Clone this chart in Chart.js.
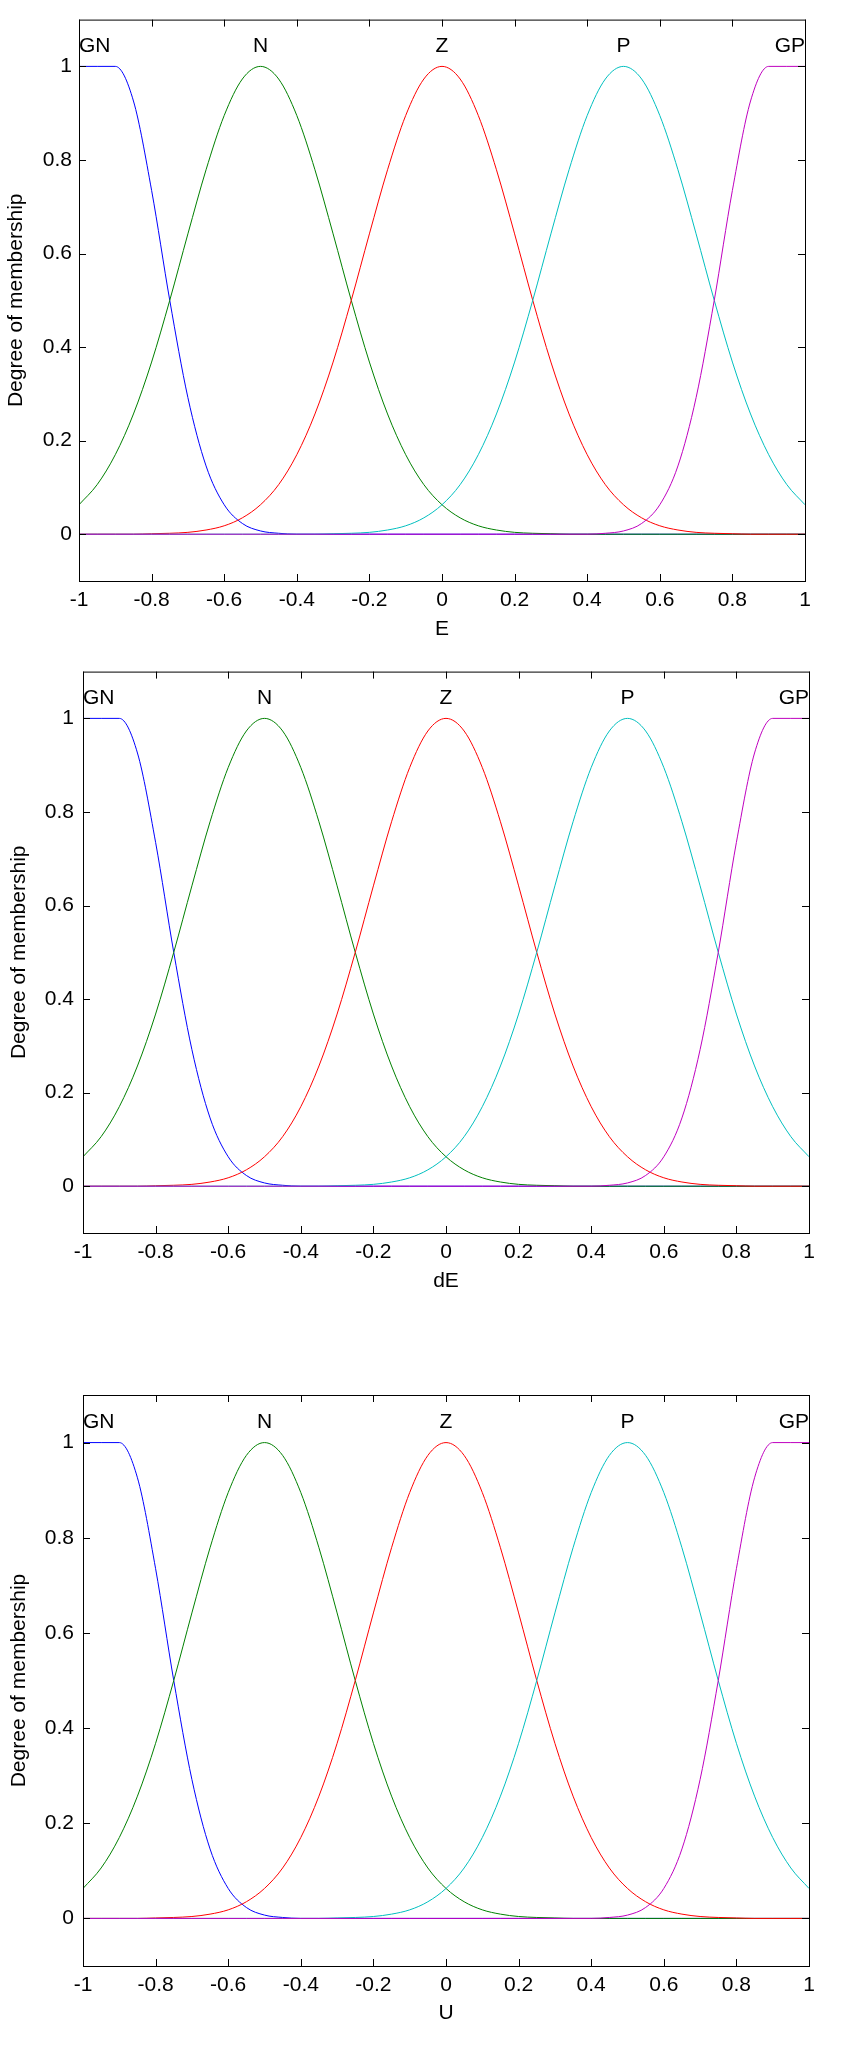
<!DOCTYPE html>
<html>
<head>
<meta charset="utf-8">
<script src="https://cdn.jsdelivr.net/npm/chart.js@4.4.1/dist/chart.umd.min.js"></script>
<style>
  body { margin: 0; background: #fff; width: 857px; height: 2051px; position: relative; overflow: hidden; }
  canvas { position: absolute; left: 0; }
</style>
</head>
<body>
<canvas id="chartE" width="857" height="650" style="top:0px"></canvas>
<canvas id="chartDE" width="857" height="660" style="top:650px"></canvas>
<canvas id="chartU" width="857" height="741" style="top:1310px"></canvas>
<script>
// membership functions at a 0.05 step of the input
var xValues = [-1, -0.95, -0.9, -0.85, -0.8, -0.75, -0.7, -0.65, -0.6, -0.55,
               -0.5, -0.45, -0.4, -0.35, -0.3, -0.25, -0.2, -0.15, -0.1, -0.05,
               0, 0.05, 0.1, 0.15, 0.2, 0.25, 0.3, 0.35, 0.4, 0.45,
               0.5, 0.55, 0.6, 0.65, 0.7, 0.75, 0.8, 0.85, 0.9, 0.95, 1];

var gnValues = [1, 1, 1, 0.926, 0.735, 0.5, 0.292, 0.146, 0.063, 0.023,
                0.007, 0.002, 0, 0, 0, 0, 0, 0, 0, 0,
                0, 0, 0, 0, 0, 0, 0, 0, 0, 0,
                0, 0, 0, 0, 0, 0, 0, 0, 0, 0, 0];
var nValues = [0.063, 0.106, 0.170, 0.257, 0.368, 0.5, 0.642, 0.779, 0.895, 0.973,
               1, 0.973, 0.895, 0.779, 0.642, 0.5, 0.368, 0.257, 0.170, 0.106,
               0.063, 0.035, 0.018, 0.009, 0.004, 0.002, 0.001, 0, 0, 0,
               0, 0, 0, 0, 0, 0, 0, 0, 0, 0, 0];
var zValues = [0, 0, 0, 0, 0.001, 0.002, 0.004, 0.009, 0.018, 0.035,
               0.063, 0.106, 0.170, 0.257, 0.368, 0.5, 0.642, 0.779, 0.895, 0.973,
               1, 0.973, 0.895, 0.779, 0.642, 0.5, 0.368, 0.257, 0.170, 0.106,
               0.063, 0.035, 0.018, 0.009, 0.004, 0.002, 0.001, 0, 0, 0, 0];
var pValues = [0, 0, 0, 0, 0, 0, 0, 0, 0, 0,
               0, 0, 0, 0, 0.001, 0.002, 0.004, 0.009, 0.018, 0.035,
               0.063, 0.106, 0.170, 0.257, 0.368, 0.5, 0.642, 0.779, 0.895, 0.973,
               1, 0.973, 0.895, 0.779, 0.642, 0.5, 0.368, 0.257, 0.170, 0.106, 0.063];
var gpValues = [0, 0, 0, 0, 0, 0, 0, 0, 0, 0,
                0, 0, 0, 0, 0, 0, 0, 0, 0, 0,
                0, 0, 0, 0, 0, 0, 0, 0, 0, 0.002,
                0.007, 0.023, 0.063, 0.146, 0.292, 0.5, 0.735, 0.926, 1, 1, 1];

var mfNames = ['GN', 'N', 'Z', 'P', 'GP'];
var mfNameX = [-1, -0.5, 0, 0.5, 1];
var mfNameAlign = ['left', 'center', 'center', 'center', 'right'];
var mfColors = ['#0000ff', '#008000', '#ff0000', '#00bfbf', '#bf00bf'];

var xTickValues = [-1, -0.8, -0.6, -0.4, -0.2, 0, 0.2, 0.4, 0.6, 0.8, 1];
var xTickLabels = ['-1', '-0.8', '-0.6', '-0.4', '-0.2', '0', '0.2', '0.4', '0.6', '0.8', '1'];
var yTickValues = [0, 0.2, 0.4, 0.6, 0.8, 1];
var yTickLabels = ['0', '0.2', '0.4', '0.6', '0.8', '1'];

var FONT = "'Liberation Sans', Arial, sans-serif";
var TICK_LEN = 7;
var NAME_LEVEL = 1.03;

// inward ticks on all four sides, the box, and the MF names above the peaks
var frameTicks = {
    id: 'frameTicks',
    afterDraw: function (chart) {
        var ctx = chart.ctx, a = chart.chartArea;
        var xs = chart.scales.x, ys = chart.scales.y;
        ctx.save();
        ctx.strokeStyle = '#000';
        ctx.lineWidth = 1;
        ctx.strokeRect(a.left + 0.5, a.top + 0.5, a.right - a.left, a.bottom - a.top);
        ctx.beginPath();
        xTickValues.forEach(function (v) {
            var px = Math.round(xs.getPixelForValue(v)) + 0.5;
            ctx.moveTo(px, a.bottom); ctx.lineTo(px, a.bottom - TICK_LEN);
            ctx.moveTo(px, a.top); ctx.lineTo(px, a.top + TICK_LEN);
        });
        yTickValues.forEach(function (v) {
            var py = Math.round(ys.getPixelForValue(v)) + 0.5;
            ctx.moveTo(a.left, py); ctx.lineTo(a.left + TICK_LEN, py);
            ctx.moveTo(a.right, py); ctx.lineTo(a.right - TICK_LEN, py);
        });
        ctx.stroke();

        ctx.fillStyle = '#000';
        ctx.font = '21px ' + FONT;
        ctx.textBaseline = 'alphabetic';
        var yName = ys.getPixelForValue(NAME_LEVEL);
        mfNames.forEach(function (name, i) {
            ctx.textAlign = mfNameAlign[i];
            ctx.fillText(name, xs.getPixelForValue(mfNameX[i]), yName);
        });
        ctx.restore();
    }
};

function points(values) {
    return xValues.map(function (x, i) { return { x: x, y: values[i] }; });
}

var seriesValues = [gnValues, nValues, zValues, pValues, gpValues];

// layout of each panel on its own canvas (pixels relative to the canvas)
var panels = [
    { id: 'chartE',  title: 'E',  height: 650, top: 9,  plotH: 572, left: 79, right: 805, yPad: 7, yTitlePad: 4, xTitlePad: 8 },
    { id: 'chartDE', title: 'dE', height: 660, top: 12, plotH: 571, left: 83, right: 809, yPad: 9, yTitlePad: 7, xTitlePad: 16 },
    { id: 'chartU',  title: 'U',  height: 741, top: 85, plotH: 571, left: 83, right: 809, yPad: 9, yTitlePad: 7, xTitlePad: 25 }
];

panels.forEach(function (p) {
    var ctx = document.getElementById(p.id).getContext('2d');
    var datasets = mfNames.map(function (name, i) {
        return {
            label: name,
            data: points(seriesValues[i]),
            borderColor: mfColors[i],
            backgroundColor: mfColors[i],
            borderWidth: 1,
            pointRadius: 0,
            fill: false,
            cubicInterpolationMode: 'monotone',
            order: mfNames.length - i
        };
    });

    new Chart(ctx, {
        type: 'line',
        data: { datasets: datasets },
        plugins: [frameTicks],
        options: {
            responsive: false,
            animation: false,
            devicePixelRatio: 1,
            layout: { padding: { top: p.top, left: 0, right: 857 - p.right, bottom: 0 } },
            plugins: {
                legend: { display: false },
                tooltip: { enabled: false }
            },
            scales: {
                x: {
                    type: 'linear',
                    min: -1,
                    max: 1,
                    afterBuildTicks: function (s) {
                        s.ticks = xTickValues.map(function (v) { return { value: v }; });
                    },
                    afterFit: function (s) { s.height = p.height - p.top - p.plotH; },
                    grid: { display: false, drawTicks: false },
                    border: { display: false },
                    ticks: {
                        color: '#000',
                        font: { family: FONT, size: 21 },
                        padding: 7,
                        maxRotation: 0,
                        autoSkip: false,
                        callback: function (v, i) { return xTickLabels[i]; }
                    },
                    title: {
                        display: true,
                        text: p.title,
                        color: '#000',
                        font: { family: FONT, size: 21 },
                        padding: { top: 0, bottom: p.xTitlePad }
                    }
                },
                y: {
                    type: 'linear',
                    min: -0.1,
                    max: 1.1,
                    afterBuildTicks: function (s) {
                        s.ticks = yTickValues.map(function (v) { return { value: v }; });
                    },
                    afterFit: function (s) { s.width = p.left; },
                    grid: { display: false, drawTicks: false },
                    border: { display: false },
                    ticks: {
                        color: '#000',
                        font: { family: FONT, size: 21 },
                        padding: p.yPad,
                        callback: function (v, i) { return yTickLabels[i]; }
                    },
                    title: {
                        display: true,
                        text: 'Degree of membership',
                        color: '#000',
                        font: { family: FONT, size: 21 },
                        padding: { top: p.yTitlePad, bottom: 0 }
                    }
                }
            }
        }
    });
});
</script>
</body>
</html>
